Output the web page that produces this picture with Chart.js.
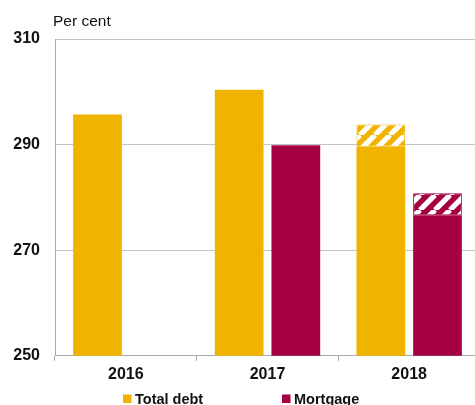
<!DOCTYPE html>
<html>
<head>
<meta charset="utf-8">
<script src="https://cdn.jsdelivr.net/npm/chart.js@4/dist/chart.umd.min.js"></script>
<style>
  html, body { margin: 0; padding: 0; background: #fff; overflow: hidden; }
  canvas { display: block; }
</style>
</head>
<body>
<canvas id="debt-chart" width="480" height="405"></canvas>
<script>
const years = ['2016', '2017', '2018'];
const totalDebt = [295.7, 300.4, 289.6];
const mortgage = [null, 289.9, 276.6];
// 2018 projections, drawn hatched on top of the solid bars
const totalDebtProjected = [null, null, 293.8];
const mortgageProjected = [null, null, 280.8];
const yTicks = [250, 270, 290, 310];

const gold = '#F0B400';
const wine = '#A50044';
const font = 'Arial, "Liberation Sans", sans-serif';

function hatch(color) {
    const s = 15;
    const c = document.createElement('canvas');
    c.width = s; c.height = s;
    const ctx = c.getContext('2d');
    ctx.fillStyle = color;
    ctx.fillRect(0, 0, s, s);
    ctx.strokeStyle = '#fff';
    ctx.lineWidth = 5.3;
    for (let k = -1; k <= 1; k++) {
        ctx.beginPath();
        ctx.moveTo(k * s, s);
        ctx.lineTo(k * s + s, 0);
        ctx.stroke();
    }
    return ctx.createPattern(c, 'repeat');
}

function range(lo, hi) {
    return lo.map((v, i) => hi[i] == null ? null : [v, hi[i]]);
}

const perCent = {
    id: 'perCent',
    afterDraw(chart) {
        const ctx = chart.ctx;
        ctx.save();
        ctx.font = `15.5px ${font}`;
        ctx.fillStyle = '#111';
        ctx.textBaseline = 'alphabetic';
        ctx.fillText('Per cent', 53, 26);
        ctx.restore();
    }
};

const bottomLegend = {
    id: 'bottomLegend',
    afterDraw(chart) {
        const ctx = chart.ctx;
        const items = chart.data.datasets.filter(d => d.inLegend);
        const xs = [123, 282];
        ctx.save();
        ctx.font = `bold 14.5px ${font}`;
        ctx.textBaseline = 'alphabetic';
        items.forEach((d, i) => {
            ctx.fillStyle = d.backgroundColor;
            ctx.fillRect(xs[i], 394.5, 8.5, 8.5);
            ctx.fillStyle = '#111';
            ctx.fillText(d.label, xs[i] + 12, 403.5);
        });
        ctx.restore();
    }
};

new Chart(document.getElementById('debt-chart'), {
    type: 'bar',
    data: {
        labels: years,
        datasets: [
            { label: 'Total debt', data: totalDebt, stack: 'debt', backgroundColor: gold, inLegend: true },
            { label: 'Mortgage', data: mortgage, stack: 'mortgage', backgroundColor: wine, inLegend: true },
            { label: 'Total debt, projected', data: range(totalDebt, totalDebtProjected), stack: 'debt',
              backgroundColor: hatch(gold), borderColor: gold, borderWidth: 1, borderSkipped: false },
            { label: 'Mortgage, projected', data: range(mortgage, mortgageProjected), stack: 'mortgage',
              backgroundColor: hatch(wine), borderColor: wine, borderWidth: 1, borderSkipped: false }
        ]
    },
    options: {
        responsive: false,
        animation: false,
        devicePixelRatio: 1,
        categoryPercentage: 0.8,
        barPercentage: 0.86,
        layout: { padding: { top: 39, left: 0, right: 0, bottom: 17 } },
        plugins: {
            legend: { display: false },
            tooltip: { enabled: false }
        },
        scales: {
            x: {
                stacked: true,
                offset: true,
                grid: { display: true, drawOnChartArea: false, offset: true, tickLength: 5, color: '#a8a8a8' },
                border: { color: '#a8a8a8' },
                ticks: { color: '#111', padding: 4, font: { family: font, size: 16, weight: 'bold' } }
            },
            y: {
                stacked: false,
                min: 250,
                max: 310,
                afterFit(scale) { scale.width = 55; },
                afterBuildTicks(scale) { scale.ticks = yTicks.map(v => ({ value: v })); },
                grid: { color: '#c4c4c4', drawTicks: false },
                border: { color: '#a8a8a8' },
                ticks: { color: '#111', padding: 15, font: { family: font, size: 16, weight: 'bold' } }
            }
        }
    },
    plugins: [perCent, bottomLegend]
});
</script>
</body>
</html>
